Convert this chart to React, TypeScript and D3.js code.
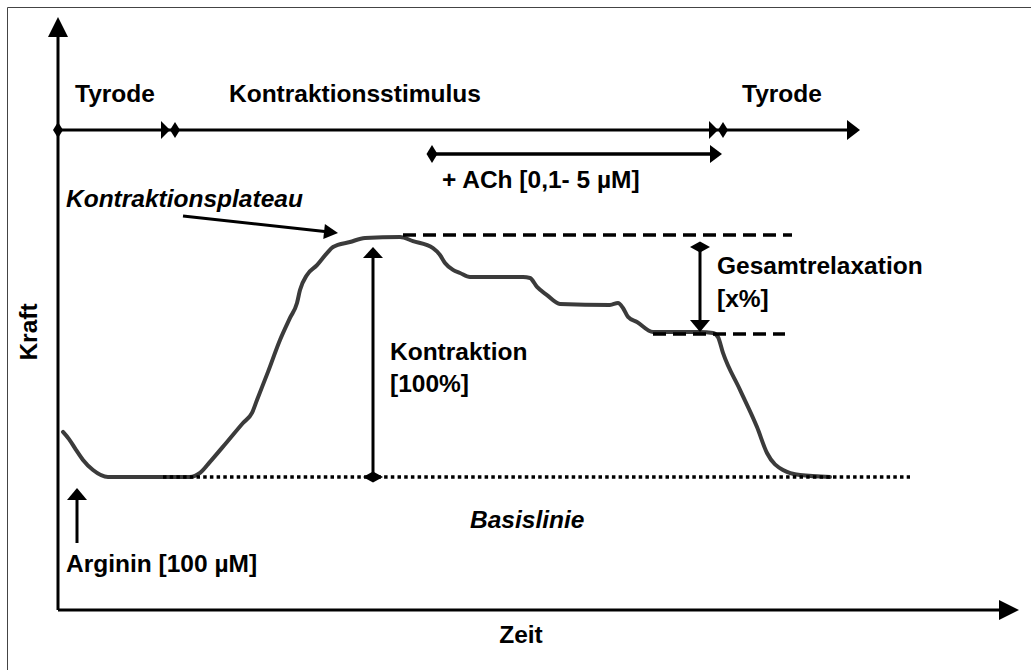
import React from "react";
import * as d3 from "d3";

// Force trace (time in arbitrary units, force in % of contraction plateau)
const traceTime = [5, 11, 18, 25, 35, 50, 132, 142, 152, 169, 185, 194, 199, 210, 222, 232, 239, 242, 249, 259, 269, 275, 292, 307, 342, 355, 375, 382, 387, 395, 402, 412, 465, 472, 479, 489, 502, 552, 560, 565, 570, 579, 595, 642, 655, 660, 665, 682, 699, 709, 725, 742, 772];
const traceForce = [18.8, 15.8, 11.3, 7.1, 2.9, 0, 0, 1.7, 6.3, 14.6, 22.5, 26.7, 32.1, 43.8, 57.1, 66.3, 72.5, 77.9, 84.2, 88.3, 93.3, 95.8, 97.9, 99.6, 100, 98.3, 95.4, 92.5, 89.2, 86.3, 85, 83.3, 83.3, 82.9, 79.2, 75.8, 72.1, 71.7, 72.5, 70.4, 66.7, 64.6, 60.4, 60.4, 60, 58.3, 51.7, 36.3, 20.8, 10, 2.9, 0.8, 0];

// Phases of the protocol (time units)
const phaseLabels = ["Tyrode", "Kontraktionsstimulus", "Tyrode"];
const phaseStart = [0, 117, 665];
const phaseEnd = [112, 660, 802];
const phaseLabelTime = [17, 171, 684];

// ACh application
const achStart = 374;
const achEnd = 664;

// Reference levels (% force)
const plateauLevel = 100;
const relaxedLevel = 60;
const baselineLevel = 0;

const W = 1035;
const H = 670;

const x = d3.scaleLinear().domain([0, 960]).range([58, 1018]);
const y = d3.scaleLinear().domain([0, 100]).range([477, 237]);

const FONT = "'Liberation Sans', Arial, sans-serif";

function tri(tx: number, ty: number, dx: number, dy: number, len: number, hw: number) {
  const n = Math.hypot(dx, dy);
  const ux = dx / n, uy = dy / n;
  const bx = tx - ux * len, by = ty - uy * len;
  const px = -uy, py = ux;
  return `M${tx},${ty}L${bx + px * hw},${by + py * hw}L${bx - px * hw},${by - py * hw}Z`;
}
function dia(cx: number, cy: number, hw: number, hh: number) {
  return `M${cx - hw},${cy}L${cx},${cy - hh}L${cx + hw},${cy}L${cx},${cy + hh}Z`;
}

export default function App() {
  const pts: [number, number][] = traceTime.map((t, i) => [t, traceForce[i]]);
  const line = d3
    .line<[number, number]>()
    .x((d) => x(d[0]))
    .y((d) => y(d[1]))
    .curve(d3.curveMonotoneX);

  const x0 = x(0);
  const axisY = 610;
  const stimY = 130;
  const achY = 154;
  const yPlat = y(plateauLevel);
  const yRel = y(relaxedLevel);
  const yBase = y(baselineLevel);
  const kx = 373;
  const gx = 700;
  const ax = 77;

  const txt = { fontFamily: FONT, fontWeight: 700, fontSize: 24.5, fill: "#000" } as const;

  return (
    <svg width={W} height={H} style={{ position: "absolute", left: 0, top: 0, background: "#fff" }}>
      <path d="M7.5,670V7.5H1031" fill="none" stroke="#444" strokeWidth={1} />

      {/* axes */}
      <line x1={x0} y1={axisY} x2={x0} y2={37} stroke="#000" strokeWidth={3} />
      <path d={tri(x0, 17, 0, -1, 20, 10)} fill="#000" />
      <line x1={x0} y1={axisY} x2={999} y2={axisY} stroke="#000" strokeWidth={3} />
      <path d={tri(1019, axisY, 1, 0, 20, 10)} fill="#000" />

      {/* protocol timeline */}
      <line x1={x(phaseStart[0])} y1={stimY} x2={x(phaseEnd[2]) - 12} y2={stimY} stroke="#000" strokeWidth={3} />
      <path d={dia(x(phaseStart[0]), stimY, 5, 8)} fill="#000" />
      {phaseEnd.map((e, i) => (
        <path key={"pe" + i} d={tri(x(e), stimY, 1, 0, i === 2 ? 13 : 9, i === 2 ? 10 : 9)} fill="#000" />
      ))}
      {phaseStart.slice(1).map((s, i) => (
        <path key={"ps" + i} d={dia(x(s), stimY, 5, 8)} fill="#000" />
      ))}
      {phaseLabels.map((l, i) => (
        <text key={"pl" + i} x={x(phaseLabelTime[i])} y={102} {...txt}>
          {l}
        </text>
      ))}

      {/* ACh */}
      <line x1={x(achStart)} y1={achY} x2={x(achEnd) - 10} y2={achY} stroke="#000" strokeWidth={3.5} />
      <path d={dia(x(achStart), achY, 5.5, 9)} fill="#000" />
      <path d={tri(x(achEnd), achY, 1, 0, 12, 9)} fill="#000" />
      <text x={442} y={188} {...txt}>+ ACh [0,1- 5 µM]</text>

      {/* force trace */}
      <path d={line(pts) || ""} fill="none" stroke="#3b3b3b" strokeWidth={4} strokeLinejoin="round" strokeLinecap="round" />

      {/* reference lines */}
      <line x1={403} y1={yPlat - 2} x2={792} y2={yPlat - 2} stroke="#000" strokeWidth={3.5} strokeDasharray="13,7" />
      <line x1={653} y1={yRel + 1} x2={785} y2={yRel + 1} stroke="#000" strokeWidth={3.5} strokeDasharray="13,7" />
      <line x1={163} y1={yBase} x2={910} y2={yBase} stroke="#000" strokeWidth={3.5} strokeDasharray="3.5,3.2" />

      {/* Kontraktionsplateau */}
      <text x={66} y={207} {...txt} fontStyle="italic">Kontraktionsplateau</text>
      <line x1={183} y1={216} x2={327} y2={231.8} stroke="#000" strokeWidth={3} />
      <path d={tri(338, 233, 155, 17, 14, 7.5)} fill="#000" />

      {/* Kontraktion */}
      <line x1={kx} y1={yBase} x2={kx} y2={257} stroke="#000" strokeWidth={3} />
      <path d={tri(kx, 247, 0, -1, 11, 10)} fill="#000" />
      <path d={dia(kx, yBase, 10, 5.5)} fill="#000" />
      <text x={390} y={360} {...txt}>Kontraktion</text>
      <text x={390} y={392} {...txt}>[100%]</text>

      {/* Gesamtrelaxation */}
      <path d={dia(gx, 247, 10, 5.5)} fill="#000" />
      <line x1={gx} y1={247} x2={gx} y2={321} stroke="#000" strokeWidth={3} />
      <path d={tri(gx, 332, 0, 1, 12, 10)} fill="#000" />
      <text x={717} y={274} {...txt}>Gesamtrelaxation</text>
      <text x={717} y={307} {...txt}>[x%]</text>

      {/* Arginin */}
      <line x1={ax} y1={543} x2={ax} y2={499} stroke="#000" strokeWidth={3} />
      <path d={tri(ax, 488, 0, -1, 12, 10)} fill="#000" />
      <text x={66} y={572} {...txt}>Arginin [100 µM]</text>

      {/* Basislinie */}
      <text x={470} y={528} {...txt} fontStyle="italic">Basislinie</text>

      {/* axis titles */}
      <text x={521} y={643} {...txt} textAnchor="middle">Zeit</text>
      <text transform="translate(37,332) rotate(-90)" {...txt} textAnchor="middle">Kraft</text>
    </svg>
  );
}
